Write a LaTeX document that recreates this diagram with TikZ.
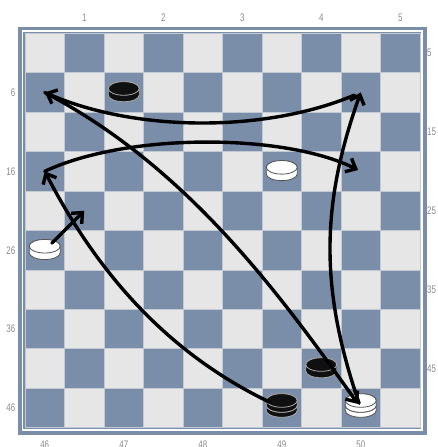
\documentclass[tikz,border=0pt]{standalone}
\usepackage{fontspec}
\usepackage{xcolor}
\usepackage{tikz}
\usetikzlibrary{arrows.meta}
\newfontfamily\labfont[FakeStretch=0.72]{Liberation Sans}
\definecolor{slate}{HTML}{7A8EA9}
\definecolor{pale}{HTML}{E6E6E6}
\definecolor{seam}{HTML}{C3CAD3}
\definecolor{numgrey}{HTML}{8C8C8C}
\definecolor{ink}{HTML}{101010}
\definecolor{rimlight}{HTML}{A8A8A8}
\definecolor{rimdark}{HTML}{555555}

% #1 square, #2 lift of the top, #3 thickness, #4 fill, #5 edge
\newcommand\disc[5]{%
  \filldraw[fill=#4, draw=#5, line width=0.8pt] ([shift={(-15.5,#2)}]#1) -- ++(0,-#3)
    arc[start angle=180, end angle=360, x radius=15.5, y radius=6.8] -- ++(0,#3)
    arc[start angle=0, end angle=180, x radius=15.5, y radius=6.8] -- cycle;
  \filldraw[fill=#4, draw=#5, line width=0.8pt] ([shift={(0,#2)}]#1) ellipse[x radius=15.5, y radius=6.8];
}

\begin{document}
\begin{tikzpicture}[x=1pt, y=1pt, >={Straight Barb[length=8.5pt, width=15pt]},
  lab/.style={font=\labfont\fontsize{11}{12}\selectfont, text=numgrey, inner sep=0pt},
  playline/.style={line width=3.4pt, ->, line cap=round, line join=round}]
  \def\sx{39.5}
  \def\sy{39.44}
  \def\bx{25}
  \def\by{413.7}
  \useasboundingbox (0,0) rectangle (438,447);
  \fill[white] (0,0) rectangle (438,447);

  \fill[slate] (18.3,12) rectangle (426.7,420.3);
  \fill[white] (21.7,16) rectangle (422.7,417);
  \fill[slate] (23.3,18) rectangle (420.7,415);

  \foreach \r in {0,...,9}{
    \foreach \c in {0,...,9}{
      \pgfmathtruncatemacro\odd{mod(\r+\c,2)}
      \ifnum\odd=1
        \filldraw[fill=slate, draw=seam, line width=0.7pt] ({\bx+\sx*\c},{\by-\sy*\r}) rectangle ++(\sx,-\sy);
        \pgfmathtruncatemacro\n{5*\r+int(\c/2)+1}
        \coordinate (s\n) at ({\bx+\sx*(\c+0.5)},{\by-\sy*(\r+0.5)});
      \else
        \filldraw[fill=pale, draw=seam, line width=0.7pt] ({\bx+\sx*\c},{\by-\sy*\r}) rectangle ++(\sx,-\sy);
      \fi
    }
  }

  \foreach \c/\t in {1/1,3/2,5/3,7/4,9/5}
    \node[lab] (top\t) at ({\bx+\sx*(\c+0.5)},429) {\t};
  \foreach \r/\t in {0/5,2/15,4/25,6/35,8/45}
    \node[lab, anchor=west] (right\t) at (427,{\by-\sy*(\r+0.5)}) {\t};
  \foreach \r/\t in {1/6,3/16,5/26,7/36,9/46}
    \node[lab, anchor=east] (left\t) at (15.5,{\by-\sy*(\r+0.5)}) {\t};
  \foreach \c/\t in {0/46,2/47,4/48,6/49,8/50}
    \node[lab] (bottom\t) at ({\bx+\sx*(\c+0.5)},2.5) {\t};

  \disc{s7}{4}{6.5}{ink}{rimlight}
  \disc{s44}{4}{6.5}{ink}{rimlight}
  \disc{s19}{4}{6.5}{white}{rimdark}
  \disc{s26}{4}{6.5}{white}{rimdark}
  \disc{s49}{2.5}{5}{ink}{rimlight}
  \disc{s49}{7.5}{5}{ink}{rimlight}
  \disc{s50}{2.5}{5}{white}{rimdark}
  \disc{s50}{7.5}{5}{white}{rimdark}

  \draw[playline, shorten <=10pt] (s26) -- (s21);
  \draw[playline, shorten <=13pt] (s49) .. controls +(-102,49) and +(60,-116) .. (s16);
  \draw[playline, shorten >=3pt] (s16) .. controls +(83,39) and +(-76,38) .. (s20);
  \draw[playline, shorten <=5pt] (s50) .. controls +(-41,119) and +(-40,-112) .. (s10);
  \draw[playline, shorten <=7pt] (s10) .. controls +(-95,-40) and +(92,-40) .. (s6);
  \draw[playline, shorten >=5pt] (s6) .. controls +(137,-72) and +(-89,126) .. (s50);
\end{tikzpicture}
\end{document}
